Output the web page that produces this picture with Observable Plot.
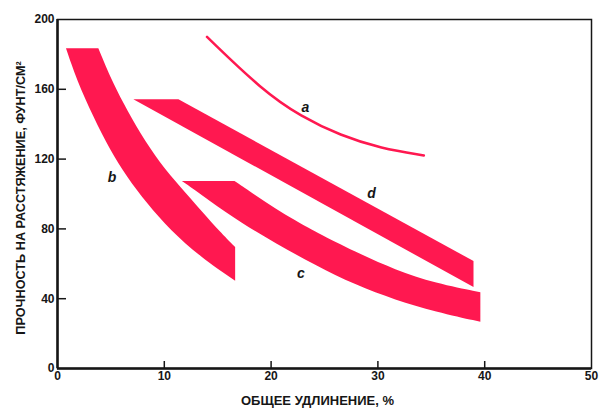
<!DOCTYPE html>
<html><head><meta charset="utf-8">
<script src="https://cdn.jsdelivr.net/npm/d3@7"></script>
<script src="https://cdn.jsdelivr.net/npm/@observablehq/plot@0.6"></script>
<style>
body{margin:0;background:#fff}
#chart svg{font-family:"Liberation Sans",Arial,sans-serif}
</style>
</head><body><div id="chart"></div>
<script>
const xTicks = [0, 10, 20, 30, 40, 50];
const yTicks = [0, 40, 80, 120, 160, 200];
const xTitle = "ОБЩЕЕ УДЛИНЕНИЕ, %";
const yTitle = "ПРОЧНОСТЬ НА РАССТЯЖЕНИЕ, ФУНТ/СМ²";

// curve a (thin line)
const curveA = [[14, 190], [19.2, 159.3], [22.8, 144.4], [26.5, 133.5], [30.3, 126.1], [34.3, 122.1]];

// band b: outer (left/lower) edge and inner (right/upper) edge
const bandBOuter = [[0.84, 183.2], [1.85, 165.0], [3.40, 144.0], [4.97, 124.9], [6.53, 109.6], [8.41, 94.4], [10.59, 79.1], [13.40, 63.8], [16.68, 50.0]];
const bandBInner = [[3.87, 183.2], [4.97, 166.9], [6.21, 151.7], [7.78, 134.5], [9.65, 117.3], [11.53, 103.9], [13.71, 88.7], [15.2, 78.5], [16.68, 69.3]];

// band c
const bandCLower = [[11.69, 107.2], [14.18, 96.3], [17.31, 83.0], [20.43, 71.5], [24.18, 59.0], [27.93, 47.6], [31.68, 39.0], [35.43, 32.3], [39.64, 26.5]];
const bandCUpper = [[16.62, 107.2], [18.56, 99.1], [20.43, 91.5], [22.3, 84.6], [24.18, 78.1], [27.93, 66.6], [31.68, 56.2], [35.43, 48.5], [39.64, 43.4]];

// band d
const bandDLower = [[7.15, 154], [39, 46.4]];
const bandDUpper = [[11.37, 154], [39, 61.3]];

// series labels
const labelText = ["a", "b", "c", "d"];
const labelX = [23.2, 5.1, 22.8, 29.4];
const labelY = [149.4, 109.6, 54.6, 100.5];

const pink = "#ff1850";
const ink = "#161616";
const W = 600, H = 415, ML = 57, MR = 9, MT = 19, MB = 47;
const plotW = W - ML - MR, plotH = H - MT - MB;
const pair = (a, b) => a.map((p, i) => ({x1: p[0], y1: p[1], x2: b[i][0], y2: b[i][1]}));
const labels = labelText.map((t, i) => ({t, x: labelX[i], y: labelY[i]}));

const chart = Plot.plot({
  width: W, height: H,
  marginLeft: ML, marginRight: MR, marginTop: MT, marginBottom: MB,
  style: {fontFamily: '"Liberation Sans", Arial, sans-serif', background: "#fff", color: ink},
  x: {domain: [0, 50]},
  y: {domain: [0, 200]},
  marks: [
    Plot.area(pair(bandBOuter, bandBInner), {x1: "x1", y1: "y1", x2: "x2", y2: "y2", fill: pink, curve: "basis"}),
    Plot.area(pair(bandCLower, bandCUpper), {x1: "x1", y1: "y1", x2: "x2", y2: "y2", fill: pink, curve: "basis"}),
    Plot.area(pair(bandDLower, bandDUpper), {x1: "x1", y1: "y1", x2: "x2", y2: "y2", fill: pink, curve: "linear"}),
    Plot.line(curveA, {x: d => d[0], y: d => d[1], stroke: pink, strokeWidth: 2.5, curve: "basis"}),
    Plot.text(labels, {x: "x", y: "y", text: "t", fontSize: 14, fontWeight: "bold", fontStyle: "italic", fill: ink}),
    Plot.frame({stroke: ink, strokeWidth: 1.5}),
    Plot.ruleX([0], {stroke: ink, strokeWidth: 2.5}),
    Plot.ruleY([0], {stroke: ink, strokeWidth: 2.5}),
    // inward ticks
    Plot.tickY(yTicks.slice(1, -1), {y: d => d, insetRight: plotW - 9, stroke: ink, strokeWidth: 1.5}),
    Plot.tickX(xTicks.slice(1, -1), {x: d => d, insetTop: plotH - 7, stroke: ink, strokeWidth: 1.5}),
    // tick labels
    Plot.axisY(yTicks, {tickSize: 0, tickPadding: 3, fontSize: 12, fontWeight: "bold", label: null}),
    Plot.axisX(xTicks, {tickSize: 0, tickPadding: 3, fontSize: 12, fontWeight: "bold", label: null}),
    // axis titles
    Plot.text([yTitle], {frameAnchor: "left", rotate: -90, dx: -37, dy: 4, textAnchor: "middle", lineAnchor: "middle", fontSize: 12.7, fontWeight: "bold", fill: ink}),
    Plot.text([xTitle], {frameAnchor: "bottom", dx: -7, dy: 32, textAnchor: "middle", lineAnchor: "middle", fontSize: 13, fontWeight: "bold", fill: ink})
  ]
});
document.getElementById("chart").appendChild(chart);
</script>
</body></html>
